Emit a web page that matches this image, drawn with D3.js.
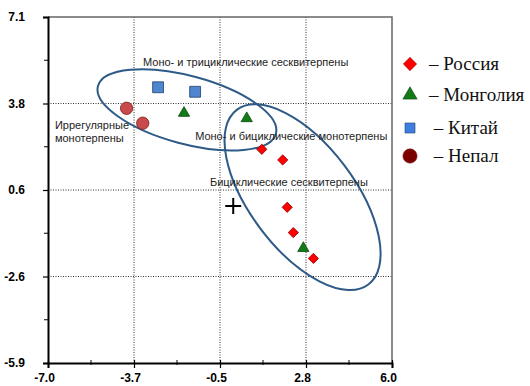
<!DOCTYPE html>
<html>
<head>
<meta charset="utf-8">
<script src="https://cdn.jsdelivr.net/npm/d3@7"></script>
<style>
  body { margin: 0; background: #fff; }
  svg { display: block; }
</style>
</head>
<body>
<svg id="chart" width="530" height="386"></svg>
<script>
// axis ticks (the chart splits both ranges into quarters)
var xTicks = [-7.0, -3.75, -0.5, 2.75, 6.0];
var xTickLabels = ['-7.0', '-3.7', '-0.5', '2.8', '6.0'];
var yTicks = [-5.9, -2.65, 0.6, 3.85, 7.1];
var yTickLabels = ['-5.9', '-2.6', '0.6', '3.8', '7.1'];

// points per country
var russia = [[1.08, 2.13], [1.87, 1.73], [2.04, -0.05], [2.27, -1.00], [3.03, -1.97]];
var mongolia = [[-1.86, 3.49], [0.51, 3.29], [2.65, -1.59]];
var china = [[-2.84, 4.46], [-1.44, 4.29]];
var nepal = [[-4.03, 3.67], [-3.42, 3.11]];
var origin = [0, 0];

// groups: centre, half axes (data units), tilt in degrees
var groupEllipses = [
    { cx: -1.75, cy: 3.61, a: 3.47, b: 1.28, angle: 15 },
    { cx: 2.62, cy: 0.33, a: 4.12, b: 1.98, angle: 53 }
];

var groupLabels = [
    { x: -3.41, y: 5.26, text: 'Моно- и трициклические сесквитерпены' },
    { x: -6.74, y: 2.89, text: 'Иррегулярные' },
    { x: -6.74, y: 2.40, text: 'монотерпены' },
    { x: -1.44, y: 2.48, text: 'Моно- и бициклические монотерпены' },
    { x: -0.88, y: 0.75, text: 'Бициклические сесквитерпены' }
];

var legendNames = ['– Россия', '– Монголия', ' – Китай', ' – Непал'];

var svg = d3.select('#chart');
var margin = { left: 48, right: 138, top: 17, bottom: 23 };
var W = 530, H = 386;

var x = d3.scaleLinear().domain([-7.0, 6.0]).range([margin.left, W - margin.right]);
var y = d3.scaleLinear().domain([-5.9, 7.1]).range([H - margin.bottom, margin.top]);
var pxPerUnit = (x(1) - x(0) + y(0) - y(1)) / 2;

var x0 = x.range()[0], x1 = x.range()[1];
var y0 = y.range()[0], y1 = y.range()[1];

// dotted grid on inner ticks
var grid = svg.append('g').attr('class', 'grid')
    .attr('stroke', '#333').attr('stroke-width', 1).attr('stroke-dasharray', '1,1.5');
grid.selectAll('.gx').data(xTicks.slice(1, -1)).enter().append('line')
    .attr('x1', d => x(d)).attr('x2', d => x(d))
    .attr('y1', y0).attr('y2', y1);
grid.selectAll('.gy').data(yTicks.slice(1, -1)).enter().append('line')
    .attr('x1', x0).attr('x2', x1)
    .attr('y1', d => y(d)).attr('y2', d => y(d));

// top + right frame
svg.append('path')
    .attr('d', `M${x0},${y1}H${x1}V${y0}`)
    .attr('fill', 'none').attr('stroke', '#666').attr('stroke-width', 1.5);

// axes
var xAxis = d3.axisBottom(x).tickValues(xTicks).tickSize(5)
    .tickFormat((d, i) => xTickLabels[i]);
var yAxis = d3.axisLeft(y).tickValues(yTicks).tickSize(5)
    .tickFormat((d, i) => yTickLabels[i]);

var gx = svg.append('g').attr('transform', `translate(0,${y0})`).call(xAxis);
var gy = svg.append('g').attr('transform', `translate(${x0},0)`).call(yAxis);

[gx, gy].forEach(g => {
    g.select('.domain').attr('stroke', '#000').attr('stroke-width', 2);
    g.selectAll('.tick line').attr('stroke', '#000').attr('stroke-width', 1.2);
    g.selectAll('.tick text')
        .attr('font-family', 'Liberation Sans, Arial, sans-serif')
        .attr('font-weight', 'bold').attr('font-size', 12).attr('fill', '#000');
});
gx.selectAll('.tick line').attr('y1', -3);
gx.selectAll('.tick text').attr('dx', -4).attr('dy', '0.9em');
gy.selectAll('.tick text').attr('x', -23).attr('text-anchor', 'end');

// minor ticks halfway between the labelled ones
var midsX = d3.pairs(xTicks).map(p => (p[0] + p[1]) / 2);
var midsY = d3.pairs(yTicks).map(p => (p[0] + p[1]) / 2);
svg.append('g').selectAll('line').data(midsX).enter().append('line')
    .attr('x1', d => x(d)).attr('x2', d => x(d))
    .attr('y1', y0 - 3).attr('y2', y0 + 2)
    .attr('stroke', '#000').attr('stroke-width', 1);
svg.append('g').selectAll('line').data(midsY).enter().append('line')
    .attr('x1', x0 - 4).attr('x2', x0)
    .attr('y1', d => y(d)).attr('y2', d => y(d))
    .attr('stroke', '#000').attr('stroke-width', 1);

// group ellipses
svg.append('g').selectAll('ellipse').data(groupEllipses).enter().append('ellipse')
    .attr('transform', d => `translate(${x(d.cx)},${y(d.cy)}) rotate(${d.angle})`)
    .attr('rx', d => d.a * pxPerUnit)
    .attr('ry', d => d.b * pxPerUnit)
    .attr('fill', 'none')
    .attr('stroke', '#2e5a87')
    .attr('stroke-width', 2);

// group captions
svg.append('g').selectAll('text').data(groupLabels).enter().append('text')
    .attr('x', d => x(d.x)).attr('y', d => y(d.y))
    .attr('font-family', 'Liberation Sans, Arial, sans-serif')
    .attr('font-size', 11).attr('fill', '#222')
    .text(d => d.text);

// marker styles: chart and legend sizes
var styles = [
    { data: russia, type: d3.symbolSquare, rot: 45, size: 52, lsize: 88, fill: '#ff0000', lfill: '#ff0000', stroke: '#9a0000' },
    { data: mongolia, type: d3.symbolTriangle, rot: 0, size: 55, lsize: 88, fill: '#137a18', lfill: '#137a18', stroke: '#0a4a0d' },
    { data: china, type: d3.symbolSquare, rot: 0, size: 118, lsize: 100, fill: '#4f86d0', lfill: '#3f7ee0', stroke: '#1f3d6e' },
    { data: nepal, type: d3.symbolCircle, rot: 0, size: 120, lsize: 160, fill: '#c94a4a', lfill: '#7d0000', stroke: '#7a1e1e' }
];

var marks = svg.append('g');
styles.forEach(s => {
    marks.selectAll(null).data(s.data).enter().append('path')
        .attr('d', d3.symbol().type(s.type).size(s.size))
        .attr('transform', d => `translate(${x(d[0])},${y(d[1])}) rotate(${s.rot})`)
        .attr('fill', s.fill)
        .attr('stroke', s.stroke)
        .attr('stroke-width', 0.8);
});

// centre cross
svg.append('path')
    .attr('d', `M${x(origin[0]) - 8},${y(origin[1])}h16M${x(origin[0])},${y(origin[1]) - 8}v16`)
    .attr('stroke', '#000').attr('stroke-width', 2);

// legend
var legendY = [64, 95, 128, 156];
var legend = svg.append('g');
styles.forEach((s, i) => {
    legend.append('path')
        .attr('d', d3.symbol().type(s.type).size(s.lsize))
        .attr('transform', `translate(410,${legendY[i]}) rotate(${s.rot})`)
        .attr('fill', s.lfill)
        .attr('stroke', s.stroke)
        .attr('stroke-width', 0.6);
    legend.append('text')
        .attr('x', 429).attr('y', legendY[i] + 6)
        .attr('font-family', 'Liberation Serif, Times New Roman, serif')
        .attr('font-size', 19).attr('fill', '#111')
        .style('white-space', 'pre')
        .text(legendNames[i]);
});
</script>
</body>
</html>
